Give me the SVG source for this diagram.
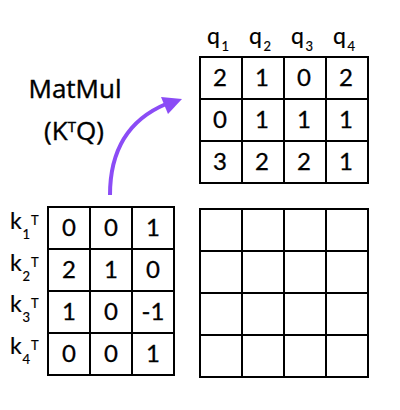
<svg xmlns="http://www.w3.org/2000/svg" width="400" height="410" viewBox="0 0 400 410">
<style>
.grid{fill:none;stroke:#000;stroke-width:2}
text{font-family:Lato,"Liberation Sans",sans-serif;fill:#000;stroke:#000;stroke-width:0.3}
.num{font-size:24px;text-anchor:middle}
.lbl{font-size:23px;stroke-width:0.2}
.sub{font-size:13px}
.sup{font-size:13px}
.title{font-family:"Open Sans","Liberation Sans",sans-serif;font-size:26px;text-anchor:middle;stroke-width:0.4}
.arrow{fill:none;stroke:#8B4CF6;stroke-width:4}
</style>
<rect width="400" height="410" fill="#fff"/>
<g id="matrix-q">
<path class="grid" d="M200,57H368V183H200Z M242,57V183 M284,57V183 M326,57V183 M200,99H368 M200,141H368"/>
<text class="lbl" x="207" y="44">q<tspan class="sub" x="221.5" y="51">1</tspan></text>
<text class="lbl" x="249" y="44">q<tspan class="sub" x="263.5" y="51">2</tspan></text>
<text class="lbl" x="291" y="44">q<tspan class="sub" x="305.5" y="51">3</tspan></text>
<text class="lbl" x="333" y="44">q<tspan class="sub" x="347.5" y="51">4</tspan></text>
<text class="num" x="220" y="86">2</text><text class="num" x="262" y="86">1</text><text class="num" x="304" y="86">0</text><text class="num" x="346" y="86">2</text>
<text class="num" x="220" y="128">0</text><text class="num" x="262" y="128">1</text><text class="num" x="304" y="128">1</text><text class="num" x="346" y="128">1</text>
<text class="num" x="220" y="170">3</text><text class="num" x="262" y="170">2</text><text class="num" x="304" y="170">2</text><text class="num" x="346" y="170">1</text>
</g>
<g id="matrix-k">
<path class="grid" d="M48,207H174V375H48Z M90,207V375 M132,207V375 M48,249H174 M48,291H174 M48,333H174"/>
<text class="lbl" x="10" y="229">k<tspan class="sub" x="22.5" y="239">1</tspan><tspan class="sup" x="31" y="225">T</tspan></text>
<text class="lbl" x="10" y="271">k<tspan class="sub" x="22.5" y="281">2</tspan><tspan class="sup" x="31" y="267">T</tspan></text>
<text class="lbl" x="10" y="312">k<tspan class="sub" x="22.5" y="322">3</tspan><tspan class="sup" x="31" y="308">T</tspan></text>
<text class="lbl" x="10" y="354">k<tspan class="sub" x="22.5" y="364">4</tspan><tspan class="sup" x="31" y="350">T</tspan></text>
<text class="num" x="69" y="236">0</text><text class="num" x="111" y="236">0</text><text class="num" x="153" y="236">1</text>
<text class="num" x="69" y="278">2</text><text class="num" x="111" y="278">1</text><text class="num" x="153" y="278">0</text>
<text class="num" x="69" y="320">1</text><text class="num" x="111" y="320">0</text><text class="num" x="153" y="320">-1</text>
<text class="num" x="69" y="362">0</text><text class="num" x="111" y="362">0</text><text class="num" x="153" y="362">1</text>
</g>
<g id="matrix-result">
<path class="grid" d="M200,209H368V377H200Z M242,209V377 M284,209V377 M326,209V377 M200,251H368 M200,293H368 M200,335H368"/>
</g>
<g id="label-matmul">
<text class="title" x="75" y="98">MatMul</text>
<text class="title" x="74" y="140">(K<tspan font-size="15" dy="-8">T</tspan><tspan dy="8">Q)</tspan></text>
</g>
<g id="connectors">
<path class="arrow" d="M110,195 C110,150 128,120 166,104"/>
<path d="M182,99 L161,97 L168,114 Z" fill="#8B4CF6"/>
</g>
</svg>
